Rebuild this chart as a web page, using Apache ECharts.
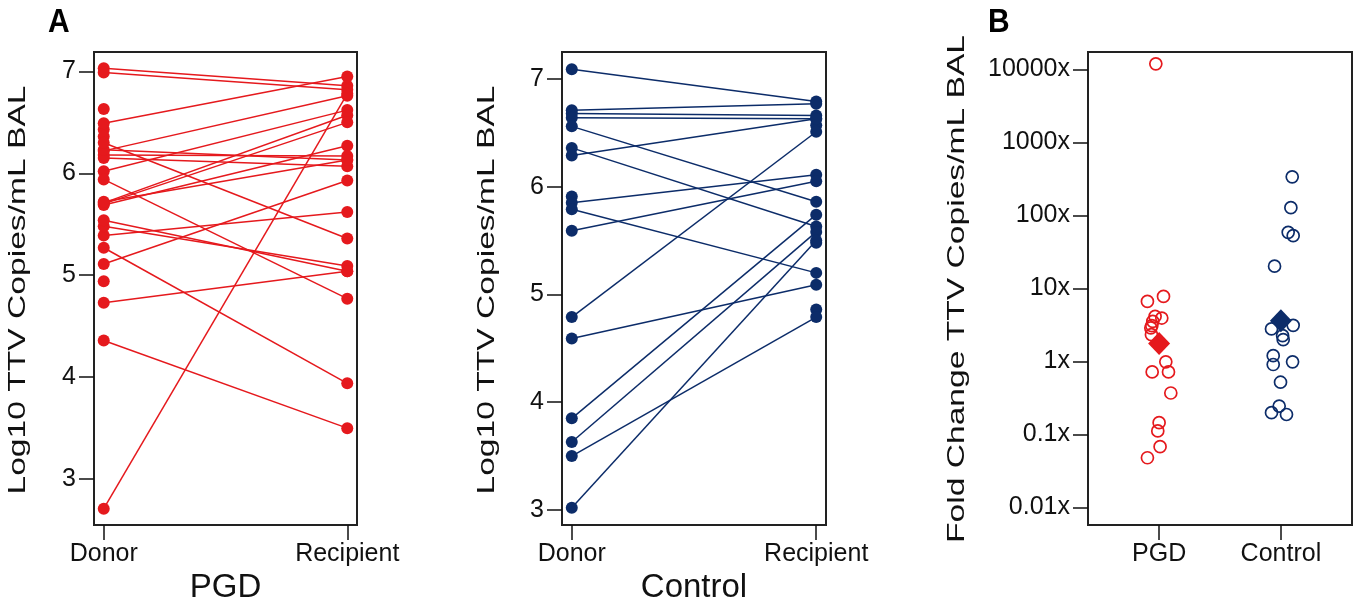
<!DOCTYPE html>
<html><head><meta charset="utf-8">
<script src="https://cdn.jsdelivr.net/npm/echarts@6/dist/echarts.min.js"></script>
<style>html,body{margin:0;background:#fff}#c{width:1360px;height:601px}</style>
</head><body><div id="c"></div><script>
// ---- data ----
const pairCategories = ['Donor', 'Recipient'];
const pgdDonor     = [7.03, 6.99, 6.49, 6.22, 6.02, 5.71, 5.70, 5.69, 5.72, 6.18, 6.15, 6.23, 5.11, 5.39, 6.30, 5.48, 5.54, 4.73, 5.94, 5.27, 4.36, 2.71];
const pgdRecipient = [6.86, 6.82, 6.95, 6.76, 6.62, 6.57, 6.50, 6.27, 6.13, 6.17, 6.07, 6.13, 5.93, 5.62, 5.36, 5.09, 5.04, 5.04, 4.77, 3.94, 3.50, 6.78];
const pgdDonorUnpaired = [6.63, 6.43, 6.36, 4.94];
const ctrlDonor     = [7.09, 6.71, 6.68, 6.64, 6.56, 6.36, 6.29, 5.85, 5.59, 5.79, 4.79, 4.59, 3.85, 3.63, 3.50, 3.02];
const ctrlRecipient = [6.79, 6.77, 6.66, 6.63, 5.86, 5.63, 6.63, 6.11, 6.05, 5.20, 6.51, 5.09, 5.74, 5.58, 4.79, 5.50];
const ctrlDonorUnpaired = [5.91];
const ctrlRecipientUnpaired = [6.57, 5.48, 4.86];
const log10Ticks = [3, 4, 5, 6, 7];

const foldCategories = ['PGD', 'Control'];
const pgdFold  = [11950, 6.65, 7.8, 4.15, 3.94, 3.55, 3.1, 2.88, 2.33, 0.99, 0.72, 0.72, 0.37, 0.145, 0.112, 0.068, 0.048];
const pgdFoldX = [0.973, 0.904, 1.036, 0.967, 1.022, 0.948, 0.940, 0.932, 0.937, 1.055, 0.943, 1.077, 1.096, 1.0, 0.989, 1.008, 0.904];
const ctrlFold  = [339, 128, 58.9, 53, 20.2, 2.79, 3.13, 2.26, 1.99, 1.2, 0.91, 0.99, 0.52, 0.245, 0.199, 0.188];
const ctrlFoldX = [2.093, 2.082, 2.060, 2.101, 1.948, 1.923, 2.101, 2.014, 2.019, 1.937, 1.937, 2.096, 1.997, 1.986, 1.923, 2.046];
const pgdFoldMean = 1.76;
const ctrlFoldMean = 3.62;
const foldTickValues = [0.01, 0.1, 1, 10, 100, 1000, 10000];
const foldTickLabels = ['0.01x', '0.1x', '1x', '10x', '100x', '1000x', '10000x'];

// ---- styling ----
const RED = '#e5191d', NAVY = '#0c2c69', INK = '#111';
const SANS = '"Liberation Sans", Arial, Helvetica, sans-serif';
const lg = v => Math.round(Math.log10(v) * 1e6) / 1e6;
const foldTickPos = foldTickValues.map(lg);

function tickCfg(values) {
  return {show: true, customValues: values, length: 15, lineStyle: {color: INK, width: 1.5}};
}
function yAxisCfg(gi, min, max, values, fmt) {
  return {gridIndex: gi, type: 'value', min, max,
    axisLine: {show: false, onZero: false}, splitLine: {show: false},
    axisTick: tickCfg(values),
    axisLabel: {customValues: values, margin: 18, fontSize: 25, fontFamily: SANS, color: INK, formatter: fmt}};
}
function xAxisCfg(gi, min, max, labels, name) {
  return {gridIndex: gi, type: 'value', min, max, position: 'bottom',
    axisLine: {show: false, onZero: false}, splitLine: {show: false},
    axisTick: tickCfg([1, 2]),
    axisLabel: {customValues: [1, 2], margin: 17, fontSize: 25, fontFamily: SANS, color: INK,
      formatter: v => labels[Math.round(v) - 1]},
    name: name, nameLocation: 'middle', nameGap: 42,
    nameTextStyle: {fontSize: 33, fontFamily: SANS, color: INK}};
}
function pairSeries(donor, recip, color, gi) {
  return donor.map((d, i) => ({
    type: 'line', xAxisIndex: gi, yAxisIndex: gi, data: [[1, d], [2, recip[i]]],
    symbol: 'circle', symbolSize: 12, showSymbol: true, silent: true,
    lineStyle: {color, width: 1.5}, itemStyle: {color, opacity: 1}, emphasis: {disabled: true}
  }));
}
function loneSeries(xv, vals, color, gi) {
  return {type: 'scatter', xAxisIndex: gi, yAxisIndex: gi, symbol: 'circle', symbolSize: 12,
    data: vals.map(v => [xv, v]), itemStyle: {color, opacity: 1}, silent: true};
}
function foldSeries(xs, vals, color) {
  return {type: 'scatter', xAxisIndex: 2, yAxisIndex: 2, symbol: 'circle', symbolSize: 12,
    data: vals.map((v, i) => [xs[i], lg(v)]),
    itemStyle: {color: 'rgba(0,0,0,0)', borderColor: color, borderWidth: 1.7, opacity: 1}, silent: true};
}
function vTitle(x, y, text) {
  return {type: 'text', x, y, rotation: Math.PI / 2, scaleX: 1.4, scaleY: 1,
    style: {text, fontSize: 24, fontFamily: SANS, fill: INK, align: 'center', verticalAlign: 'middle'}};
}
function panelLetter(x, y, text) {
  return {type: 'text', x, y, scaleY: 1.12,
    style: {text, fontSize: 30, fontWeight: 'bold', fontFamily: SANS, fill: '#000', align: 'left', verticalAlign: 'top'}};
}

const gridBase = {top: 52, height: 473, show: true, borderColor: '#222', borderWidth: 2,
  backgroundColor: '#fff', containLabel: false, outerBoundsMode: 'none'};
const option = {
  animation: false,
  backgroundColor: '#fff',
  grid: [
    Object.assign({left: 94, width: 263}, gridBase),
    Object.assign({left: 562, width: 264}, gridBase),
    Object.assign({left: 1088, width: 264}, gridBase)
  ],
  xAxis: [
    xAxisCfg(0, 0.96, 2.04, pairCategories, 'PGD'),
    xAxisCfg(1, 0.96, 2.04, pairCategories, 'Control'),
    xAxisCfg(2, 0.416, 2.584, foldCategories, '')
  ],
  yAxis: [
    yAxisCfg(0, 2.55, 7.19, log10Ticks, v => String(v)),
    yAxisCfg(1, 2.86, 7.25, log10Ticks, v => String(v)),
    yAxisCfg(2, -2.24, 4.24, foldTickPos, v => {
      let k = 0, best = 1e9;
      foldTickPos.forEach((p, i) => { if (Math.abs(p - v) < best) { best = Math.abs(p - v); k = i; } });
      return foldTickLabels[k];
    })
  ],
  series: [
    ...pairSeries(pgdDonor, pgdRecipient, RED, 0),
    loneSeries(1, pgdDonorUnpaired, RED, 0),
    ...pairSeries(ctrlDonor, ctrlRecipient, NAVY, 1),
    loneSeries(1, ctrlDonorUnpaired, NAVY, 1),
    loneSeries(2, ctrlRecipientUnpaired, NAVY, 1),
    foldSeries(pgdFoldX, pgdFold, RED),
    foldSeries(ctrlFoldX, ctrlFold, NAVY),
    {type: 'scatter', xAxisIndex: 2, yAxisIndex: 2, symbol: 'diamond', symbolSize: [22, 23], silent: true,
      data: [{value: [1, lg(pgdFoldMean)], itemStyle: {color: RED, opacity: 1}}, {value: [2, lg(ctrlFoldMean)], itemStyle: {color: NAVY, opacity: 1}}], z: 5}
  ],
  graphic: [
    vTitle(18, 290, 'Log10 TTV Copies/mL BAL'),
    vTitle(487, 290, 'Log10 TTV Copies/mL BAL'),
    vTitle(957, 289, 'Fold Change TTV Copies/mL BAL'),
    panelLetter(48, 6, 'A'),
    panelLetter(988, 6, 'B')
  ]
};
const chart = echarts.init(document.getElementById('c'));
chart.setOption(option);
</script></body></html>
